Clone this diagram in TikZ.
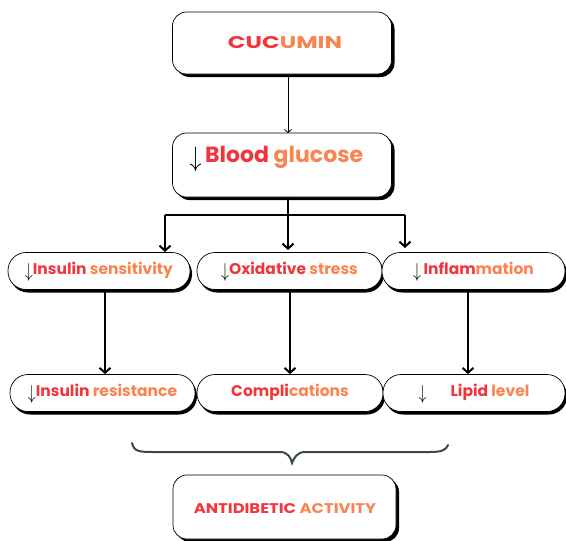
\documentclass[tikz,border=0pt]{standalone}
\usepackage{fontspec}
\setmainfont{Poppins}
\usetikzlibrary{arrows.meta,shadows}
\definecolor{tred}{HTML}{F0353B}
\definecolor{torange}{HTML}{F9844F}
\definecolor{brc}{HTML}{3B4A3E}
\newcommand{\dn}[1][1.4]{\raisebox{-2.5pt}[0pt][0pt]{\scalebox{1.1}[#1]{$\downarrow$}}}
\begin{document}
\begin{tikzpicture}[x=1pt,y=-1pt,
  box/.style={draw=black, line width=0.7pt, fill=white, rounded corners=14pt, inner sep=0pt,
    drop shadow={shadow xshift=3pt, shadow yshift=-3pt, fill=black, opacity=1}},
  pill/.style={draw=black, line width=0.7pt, fill=white, rounded corners=18pt, minimum height=37pt, inner sep=0pt,
    text height=11pt, text depth=3.5pt,
    drop shadow={shadow xshift=2pt, shadow yshift=-3pt, fill=black, opacity=1},
    font=\bfseries\fontsize{15.5}{18}\selectfont},
  conn/.style={line width=2pt, -{Straight Barb[length=5pt,width=11pt,line width=2pt]}},
  thin/.style={line width=0.8pt, -{Straight Barb[length=3pt,width=7pt,line width=0.8pt]}},
]
\useasboundingbox (0,0) rectangle (566,541);
% top boxes
\node[box, minimum width=219pt, minimum height=62pt] (cuc) at (282,43) {};
\node[font=\bfseries\fontsize{17}{20}\selectfont] (cuct) at (285,43) {\scalebox{1.37}[1]{\textcolor{tred}{CUC}\textcolor{torange}{UMIN}}};
\node[box, minimum width=219pt, minimum height=64pt] (bg) at (282,165) {};
\node[font=\bfseries\fontsize{22}{26}\selectfont, anchor=west] (bgt) at (186,157) {\raisebox{-4pt}[0pt][0pt]{\scalebox{1.15}[1.35]{$\downarrow$}}\,\textcolor{tred}{Blood} \textcolor{torange}{glucose}};
\draw[thin] (288,75) -- (288,133);
% branch
\coordinate (h1) at (165,215);
\coordinate (h3) at (405,215);
\draw[line width=2.5pt] (165,215) -- (405,215);
% row 2
\node[pill, minimum width=182pt] (p1) at (99,271) {\dn\textcolor{tred}{Insulin} \textcolor{torange}{sensitivity}};
\node[pill, minimum width=185pt] (p2) at (289.5,271) {\dn\textcolor{tred}{Oxidative} \textcolor{torange}{stress}};
\node[pill, minimum width=183pt] (p3) at (473.5,271) {\dn\,\textcolor{tred}{Inflam}\textcolor{torange}{mation}};
\draw[conn] (h1) -- (165,252);
\draw[line width=2.5pt] (288,197) -- (288,215);
\draw[conn] (288,215) -- (288,250);
\draw[conn] (h3) -- (405,248);
% row 3
\node[pill, minimum width=185pt] (q1) at (102.5,393) {\dn\textcolor{tred}{Insulin} \textcolor{torange}{resistance}};
\node[pill, minimum width=186pt] (q2) at (290,393) {\textcolor{tred}{Compli}\textcolor{torange}{cations}};
\node[pill, minimum width=182pt] (q3) at (474,393) {\dn\hspace{24pt}\textcolor{tred}{Lipid} \textcolor{torange}{level}};
\draw[conn] (105,292) -- (q1.north -| 105,0);
\draw[conn] (290,292) -- (q2.north);
\draw[conn] (468,292) -- (q3.north -| 468,0);
% brace
\draw[brc, line width=2pt, line cap=round] (132,443) .. controls (134,452) and (140,452) .. (155,452)
  -- (280,452) .. controls (288,452) and (291,458) .. (292,463)
  .. controls (294,458) and (297,452) .. (305,452) -- (430,452)
  .. controls (442,452) and (446,450) .. (448,445);
% final
\node[box, minimum width=223pt, minimum height=64pt] (anti) at (284.5,507) {};
\node[font=\bfseries\fontsize{14}{16}\selectfont] (antit) at (285,509) {\scalebox{1.17}[1]{\textcolor{tred}{ANTIDIBETIC} \textcolor{torange}{ACTIVITY}}};
\end{tikzpicture}
\end{document}
